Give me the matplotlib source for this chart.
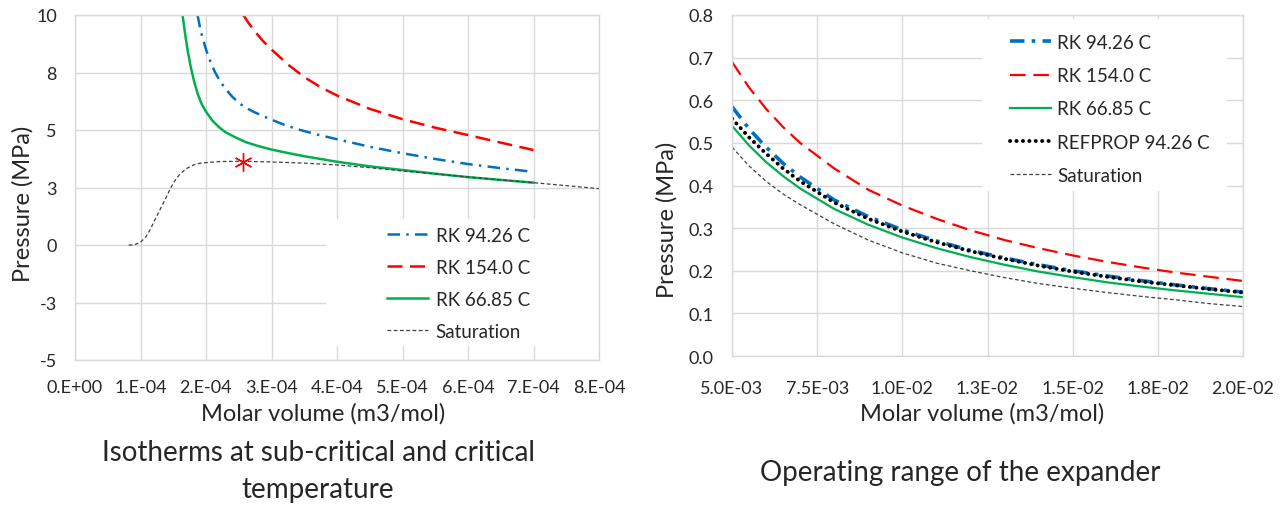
import matplotlib
matplotlib.use('Agg')
import matplotlib.pyplot as plt
from matplotlib.patches import Rectangle

plt.rcParams['font.family'] = ['Lato', 'DejaVu Sans']

# ---- left panel: isotherms (molar volume m3/mol, pressure MPa) ----
v_green_l = [1.642e-4, 1.68e-4, 1.72e-4, 1.77e-4, 1.82e-4, 1.87e-4, 1.93e-4, 2.0e-4, 2.1e-4,
             2.2e-4, 2.3e-4, 2.45e-4, 2.6e-4, 2.8e-4, 3.0e-4, 3.25e-4, 3.5e-4, 3.75e-4,
             4.0e-4, 4.5e-4, 5.0e-4, 5.5e-4, 6.0e-4, 6.5e-4, 7.0e-4]
p_green_l = [10.0, 9.2, 8.45, 7.7, 7.1, 6.6, 6.15, 5.8, 5.4,
             5.12, 4.9, 4.68, 4.48, 4.3, 4.15, 4.0, 3.86, 3.74,
             3.62, 3.42, 3.26, 3.1, 2.95, 2.83, 2.71]

v_blue_l = [1.87e-4, 1.92e-4, 2.0e-4, 2.07e-4, 2.14e-4, 2.22e-4, 2.3e-4, 2.4e-4, 2.5e-4,
            2.6e-4, 2.72e-4, 2.85e-4, 3.0e-4, 3.2e-4, 3.44e-4, 3.7e-4, 4.0e-4, 4.5e-4,
            5.0e-4, 5.5e-4, 6.0e-4, 6.5e-4, 7.0e-4]
p_blue_l = [10.0, 9.3, 8.5, 7.95, 7.5, 7.1, 6.78, 6.45, 6.18,
            5.98, 5.8, 5.63, 5.45, 5.22, 5.0, 4.8, 4.6, 4.27,
            3.99, 3.74, 3.52, 3.34, 3.18]

v_red_l = [2.57e-4, 2.65e-4, 2.75e-4, 2.87e-4, 3.0e-4, 3.25e-4, 3.5e-4, 3.75e-4, 4.0e-4,
           4.5e-4, 5.0e-4, 5.5e-4, 6.0e-4, 6.5e-4, 7.0e-4]
p_red_l = [10.0, 9.65, 9.27, 8.87, 8.5, 7.85, 7.3, 6.86, 6.5,
           5.92, 5.47, 5.1, 4.78, 4.45, 4.13]

v_sat_l = [0.82e-4, 0.9e-4, 1.0e-4, 1.08e-4, 1.15e-4, 1.22e-4, 1.3e-4, 1.38e-4, 1.45e-4,
           1.52e-4, 1.6e-4, 1.7e-4, 1.81e-4, 1.9e-4, 1.99e-4, 2.23e-4, 2.57e-4, 3.0e-4,
           3.5e-4, 4.0e-4, 4.5e-4, 5.0e-4, 5.5e-4, 6.0e-4, 6.5e-4, 7.0e-4, 7.5e-4, 8.0e-4]
p_sat_l = [0.0, 0.0, 0.12, 0.35, 0.68, 1.1, 1.55, 2.0, 2.42,
           2.78, 3.08, 3.32, 3.48, 3.55, 3.58, 3.63, 3.64, 3.61,
           3.56, 3.48, 3.36, 3.22, 3.09, 2.96, 2.83, 2.71, 2.58, 2.45]

v_crit = [2.57e-4]
p_crit = [3.63]

xticks_l = [0, 1e-4, 2e-4, 3e-4, 4e-4, 5e-4, 6e-4, 7e-4, 8e-4]
xlabels_l = ['0.E+00', '1.E-04', '2.E-04', '3.E-04', '4.E-04', '5.E-04', '6.E-04', '7.E-04', '8.E-04']
yticks_l = [-5, -2.5, 0, 2.5, 5, 7.5, 10]
ylabels_l = ['-5', '-3', '0', '3', '5', '8', '10']

# ---- right panel: operating range ----
v_r = [5e-3, 5.5e-3, 6e-3, 6.5e-3, 7e-3, 8e-3, 9e-3, 10e-3, 11e-3, 12e-3, 13e-3, 14e-3,
       15e-3, 16e-3, 17e-3, 18e-3, 19e-3, 20e-3]
p_blue_r = [0.585, 0.533, 0.49, 0.452, 0.42, 0.366, 0.327, 0.296, 0.27, 0.248, 0.23, 0.214,
            0.2, 0.188, 0.177, 0.167, 0.158, 0.15]
p_red_r = [0.69, 0.63, 0.58, 0.537, 0.50, 0.44, 0.39, 0.353, 0.322, 0.295, 0.272, 0.253,
           0.236, 0.221, 0.208, 0.196, 0.186, 0.176]
p_green_r = [0.54, 0.494, 0.455, 0.422, 0.393, 0.345, 0.308, 0.278, 0.253, 0.232, 0.214, 0.198,
             0.185, 0.173, 0.163, 0.154, 0.146, 0.138]
p_refprop_r = [0.557, 0.513, 0.475, 0.44, 0.41, 0.36, 0.322, 0.292, 0.267, 0.246, 0.228, 0.212,
               0.198, 0.186, 0.175, 0.166, 0.157, 0.149]
p_sat_r = [0.49, 0.446, 0.41, 0.38, 0.355, 0.31, 0.272, 0.242, 0.218, 0.2, 0.184, 0.17,
           0.159, 0.149, 0.14, 0.132, 0.123, 0.116]

xticks_r = [5e-3, 7.5e-3, 10e-3, 12.5e-3, 15e-3, 17.5e-3, 20e-3]
xlabels_r = ['5.0E-03', '7.5E-03', '1.0E-02', '1.3E-02', '1.5E-02', '1.8E-02', '2.0E-02']
yticks_r = [0, 0.1, 0.2, 0.3, 0.4, 0.5, 0.6, 0.7, 0.8]
ylabels_r = ['0.0', '0.1', '0.2', '0.3', '0.4', '0.5', '0.6', '0.7', '0.8']

BLUE = '#0070C0'
RED = '#FF0000'
GREEN = '#00B050'
GRID = '#D9D9D9'
TXT = '#262626'

W, H = 1281, 506
fig = plt.figure(figsize=(W / 100, H / 100), dpi=100)


def px_axes(x0, y0, x1, y1):
    return fig.add_axes([x0 / W, 1 - y1 / H, (x1 - x0) / W, (y1 - y0) / H])


def style(ax, xt, xl, yt, yl, xpad, ypad):
    ax.set_xticks(xt)
    ax.set_xticklabels(xl)
    ax.set_yticks(yt)
    ax.set_yticklabels(yl)
    ax.set_xlim(xt[0], xt[-1])
    ax.set_ylim(yt[0], yt[-1])
    ax.grid(True, color=GRID, lw=1)
    ax.set_axisbelow(True)
    for s in ax.spines.values():
        s.set_color(GRID)
        s.set_linewidth(1)
    ax.tick_params(length=0, labelsize=13, labelcolor=TXT)
    ax.tick_params(axis='x', pad=xpad)
    ax.tick_params(axis='y', pad=ypad)


# left
ax1 = px_axes(75, 16, 599, 361)
style(ax1, xticks_l, xlabels_l, yticks_l, ylabels_l, 14, 13)
l1, = ax1.plot(v_blue_l, p_blue_l, color=BLUE, lw=1.8, dashes=(5, 2.5, 1, 2.5))
l2, = ax1.plot(v_red_l, p_red_l, color=RED, lw=1.8, dashes=(6, 3))
l3, = ax1.plot(v_green_l, p_green_l, color=GREEN, lw=1.8)
l4, = ax1.plot(v_sat_l, p_sat_l, color='#404040', lw=0.9, dashes=(3, 2))
ax1.plot(v_crit, p_crit, marker=(6, 2, 0), ms=13, mew=1, color=RED, ls='none', zorder=5)
ax1.add_patch(Rectangle((0.479, 0.041), 0.521, 0.368, transform=ax1.transAxes,
                        facecolor='white', edgecolor='none', zorder=1.5))
ax1.legend([l1, l2, l3, l4], ['RK 94.26 C', 'RK 154.0 C', 'RK 66.85 C', 'Saturation'],
           loc='upper left', bbox_to_anchor=(0.595, 0.386), frameon=False, fontsize=13.5,
           borderpad=0, borderaxespad=0, handlelength=2.2, handletextpad=0.4,
           labelspacing=0.8, labelcolor=TXT)

# right
ax2 = px_axes(732, 16, 1243, 357)
style(ax2, xticks_r, xlabels_r, yticks_r, ylabels_r, 17, 13)
r1, = ax2.plot(v_r, p_blue_r, color=BLUE, lw=2.6, dashes=(4, 2, 1, 2))
r2, = ax2.plot(v_r, p_red_r, color=RED, lw=1.6, dashes=(7, 3.5))
r3, = ax2.plot(v_r, p_green_r, color=GREEN, lw=1.6)
r4, = ax2.plot(v_r, p_refprop_r, color='black', lw=2.8, dashes=(0.05, 1.6),
               dash_capstyle='round')
r5, = ax2.plot(v_r, p_sat_r, color='#404040', lw=0.9, dashes=(3, 2))
ax2.add_patch(Rectangle((0.489, 0.484), 0.48, 0.504, transform=ax2.transAxes,
                        facecolor='white', edgecolor='none', zorder=1.5))
ax2.legend([r1, r2, r3, r4, r5],
           ['RK 94.26 C', 'RK 154.0 C', 'RK 66.85 C', 'REFPROP 94.26 C', 'Saturation'],
           loc='upper left', bbox_to_anchor=(0.544, 0.945), frameon=False, fontsize=13.5,
           borderpad=0, borderaxespad=0, handlelength=2.2, handletextpad=0.3,
           labelspacing=0.87, labelcolor=TXT)

# axis labels and captions
def ftext(x, y, s, size, rot=0):
    fig.text(x / W, 1 - y / H, s, fontsize=size, color=TXT, ha='center', va='center',
             rotation=rot)


ftext(23, 204, 'Pressure (MPa)', 17, 90)
ftext(667, 220, 'Pressure (MPa)', 17, 90)
ftext(323, 414, 'Molar volume (m3/mol)', 17)
ftext(982, 414, 'Molar volume (m3/mol)', 17)
ftext(318, 453, 'Isotherms at sub-critical and critical', 20)
ftext(318, 490, 'temperature', 20)
ftext(960, 473, 'Operating range of the expander', 20)

fig.savefig('out.png', dpi=100)
